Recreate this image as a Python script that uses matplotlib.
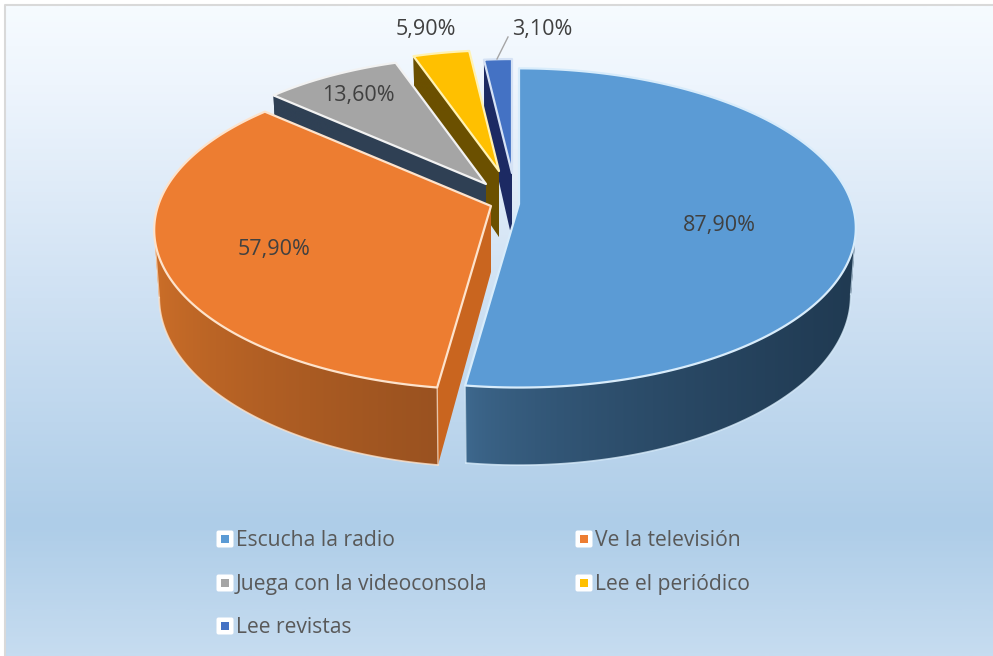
import numpy as np
import matplotlib
matplotlib.use("Agg")
import matplotlib.pyplot as plt
from matplotlib.colors import LinearSegmentedColormap
from matplotlib.patches import Polygon, Rectangle, FancyBboxPatch
from matplotlib.path import Path

plt.rcParams["font.family"] = ["Open Sans", "DejaVu Sans"]

# ---- Data ----
categories = ["Escucha la radio", "Ve la televisión", "Juega con la videoconsola",
              "Lee el periódico", "Lee revistas"]
values = [87.9, 57.9, 13.6, 5.9, 3.1]

# ---- Style ----
top_colors = ["#5b9bd5", "#ed7d31", "#a5a5a5", "#ffc000", "#4472c4"]
cut_colors = ["#2c4d6e", "#c9651f", "#2f4054", "#6b5000", "#1c2a63"]
wall_left = ["#3f6a90", "#cf7029", "#2f4054", "#6b5000", "#1c2a63"]
wall_right = ["#203a52", "#9a5220", "#2f4054", "#6b5000", "#1c2a63"]
rim_colors = ["#d8ecfb", "#fde3cc", "#f2f2f2", "#fff2b3", "#d5e2f5"]

# where each exploded slice ends up (px) and how much perspective shrinks it
apex = [(519, 204), (491, 206), (486, 184), (499, 171), (512, 173)]
shrink = [1.0, 1.0, 0.94, 0.89, 0.84]
Rx, Ry, persp, depth, wall_x = 333, 156, 0.15, 66, 0.985

fig = plt.figure(figsize=(9.93, 6.56), dpi=100)
ax = fig.add_axes([0, 0, 1, 1])
ax.axis("off")

# ---- Background ----
bg = LinearSegmentedColormap.from_list("bg", [
    (0.0, "#f6fbff"), (0.12, "#eef5fd"), (0.45, "#cfe1f3"),
    (0.80, "#aecde8"), (1.0, "#c6dcf0"),
])
ax.imshow(np.linspace(0, 1, 300)[:, None], cmap=bg, aspect="auto",
          extent=(5, 993, 656, 5), zorder=0)
ax.plot([5, 5, 993], [656, 5, 5], color="#d9d9d9", lw=1.5, zorder=1)


def rim(theta, k):
    s, c = np.sin(theta), np.cos(theta)
    f = 1 / (1 + persp * c)
    return k * Rx * s * f, -k * Ry * c * f, f


def strip(p):
    # same winding for every quad, or overlapping ones cancel in the clip
    p = np.array(p)
    area = np.sum(p[:-1, 0] * p[1:, 1] - p[1:, 0] * p[:-1, 1])
    return Path(p if area > 0 else p[::-1])


# ---- 3D pie ----
angles = np.cumsum([0] + values) / sum(values) * 2 * np.pi
z = 2
for i in [4, 3, 2, 1, 0]:
    ax0, ay0 = apex[i]
    th = np.linspace(angles[i], angles[i + 1], 200)
    dx, dy, f = rim(th, shrink[i])
    x = ax0 + dx
    y = ay0 + dy
    xb = ax0 + dx * wall_x
    yb = y + depth * f

    # cut faces
    for j in (0, -1):
        ax.add_patch(Polygon([(ax0, ay0), (x[j], y[j]), (xb[j], yb[j]), (ax0, ay0 + depth)],
                             closed=True, fc=cut_colors[i], ec="none", zorder=z))

    # outer wall with a sideways shading, clipped to the strips of the wall
    strips = [strip([(x[j], y[j]), (x[j + 1], y[j + 1]), (xb[j + 1], yb[j + 1]), (xb[j], yb[j]), (x[j], y[j])])
              for j in range(len(th) - 1)]
    shade = LinearSegmentedColormap.from_list("w", [wall_left[i], wall_right[i]])
    img = ax.imshow(np.linspace(0, 1, 256)[None, :] ** 0.6, cmap=shade, aspect="auto",
                    extent=(min(x.min(), xb.min()), max(x.max(), xb.max()), yb.max(), y.min()),
                    zorder=z + 0.1)
    img.set_clip_path(Path.make_compound_path(*strips), transform=ax.transData)

    # pale edges of the wall, only the front of the two big slices shows it
    if i == 0:
        k = int(np.argmax(x))
        front = slice(k, None)
        corners = (k, -1)
    elif i == 1:
        k = int(np.argmin(x))
        front = slice(0, k + 1)
        corners = (0, k)
    if i < 2:
        ax.plot(xb[front], yb[front], color=rim_colors[i], lw=1.2, alpha=0.8, zorder=z + 0.2)
        for n in corners:
            ax.plot([x[n], xb[n]], [y[n], yb[n]], color=rim_colors[i], lw=1.0, alpha=0.7, zorder=z + 0.2)

    # top face
    ax.add_patch(Polygon(np.r_[[[ax0, ay0]], np.c_[x, y]], closed=True, fc=top_colors[i],
                         ec=rim_colors[i], lw=1.6, joinstyle="round", zorder=z + 0.5))
    z += 1

# ---- Data labels ----
label_pos = [(719, 225), (274, 249), (358, 95), (426, 30), (542, 30)]
for v, (lx, ly) in zip(values, label_pos):
    ax.text(lx, ly, f"{v:.2f}".replace(".", ",") + "%", fontsize=15.5, color="#404040",
            ha="center", va="center", zorder=20)
ax.plot([508, 497], [37, 59], color="#a6a6a6", lw=1.0, zorder=20)

# ---- Legend ----
leg_x = [216, 575, 216, 575, 216]
leg_y = [539, 539, 583, 583, 626]
for name, col, lx, ly in zip(categories, top_colors, leg_x, leg_y):
    ax.add_patch(FancyBboxPatch((lx + 1.5, ly - 7.5), 15, 15, boxstyle="round,pad=1,rounding_size=2",
                                fc="white", ec="none", zorder=20))
    ax.add_patch(Rectangle((lx + 5, ly - 4), 8, 8, fc=col, ec="none", zorder=21))
    ax.text(lx + 20, ly + 1.5, name, fontsize=15.2, color="#595959", ha="left", va="center", zorder=20)

ax.set_xlim(0, 993)
ax.set_ylim(656, 0)
fig.savefig("out.png", dpi=100)
